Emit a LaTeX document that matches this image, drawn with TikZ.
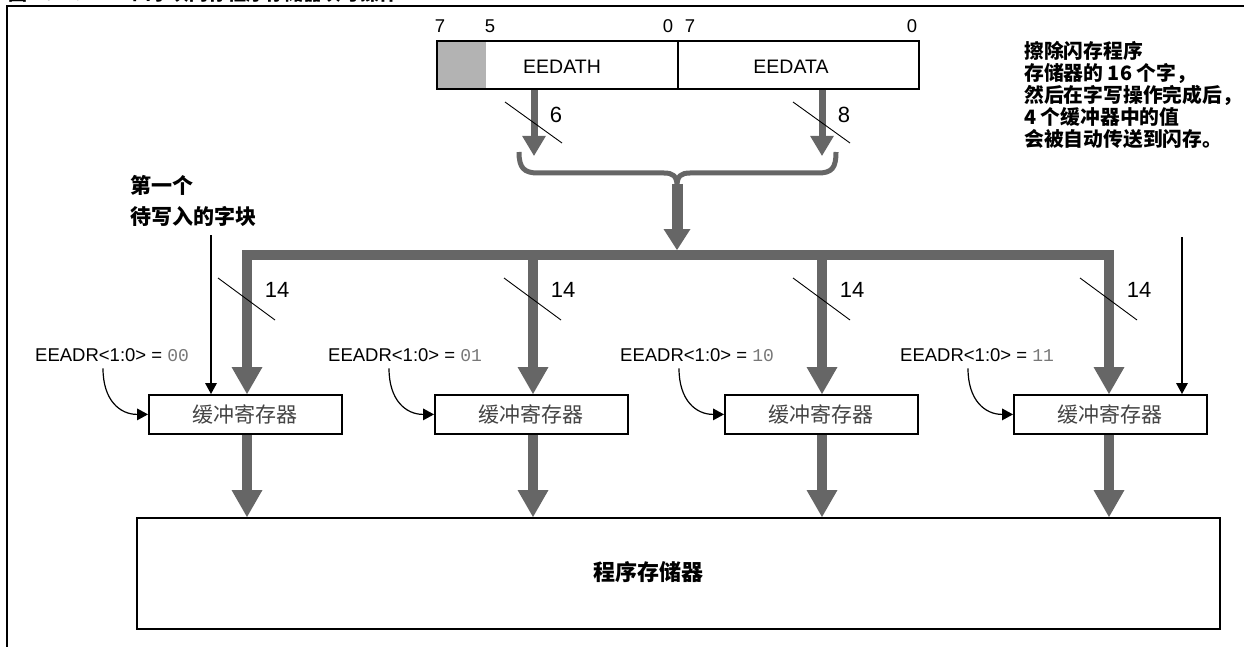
\documentclass[tikz,border=0pt]{standalone}
\usepackage{fontspec}
\setmainfont{Liberation Sans}
\newfontfamily\monof{Liberation Mono}
\newfontfamily\cjk{Noto Sans CJK SC}
\usetikzlibrary{arrows.meta,calc}
\definecolor{arrowgray}{HTML}{666666}
\definecolor{fillgray}{HTML}{B3B3B3}
\definecolor{txtgray}{HTML}{444444}
\definecolor{numgray}{HTML}{777777}
\tikzset{
  regbox/.style={draw, line width=1.8pt, inner sep=0, minimum height=48pt, minimum width=241pt},
  bufbox/.style={draw, line width=1.8pt, inner sep=0, minimum height=39pt, minimum width=193pt, text=txtgray, font=\cjk\fontsize{21}{21}\selectfont},
  membox/.style={draw, line width=1.8pt, inner sep=0, minimum height=111pt, minimum width=1083pt},
  fatarrow/.style={draw=arrowgray, line width=10.5pt, -{Triangle[width=31pt,length=27pt,line width=0pt]}},
  midarrow/.style={draw=arrowgray, line width=7pt, -{Triangle[width=24pt,length=20pt,line width=0pt]}},
  stemarrow/.style={draw=arrowgray, line width=11pt, -{Triangle[width=27pt,length=21pt,line width=0pt]}},
  thinarrow/.style={draw, line width=1.2pt, -{Triangle[width=12pt,length=11pt,line width=0pt]}},
  slashline/.style={draw, line width=0.9pt},
  bitnum/.style={inner sep=0, font=\fontsize{18.5}{18.5}\selectfont},
  widthnum/.style={inner sep=0, font=\fontsize{22}{22}\selectfont},
  reglabel/.style={inner sep=0, font=\fontsize{19.5}{19.5}\selectfont},
  eelabel/.style={inner sep=0, anchor=west, font=\fontsize{18.5}{18.5}\selectfont},
  note/.style={inner sep=0, align=left, anchor=north west},
}
\newcommand{\eenum}[1]{{\monof\color{numgray}\fontsize{18}{18}\selectfont #1}}
\begin{document}
\begin{tikzpicture}[x=1pt,y=-1pt]
\useasboundingbox (0,0) rectangle (1244,647);
% outer frame and clipped title
\draw[line width=2pt] (7,650) -- (7,6) -- (1246,6);
\node[anchor=base west, inner sep=0, font=\cjk\bfseries\fontsize{19}{19}\selectfont] (title) at (8,1) {图 10-2：\hspace{40pt}四字块闪存程序存储器块写操作};
% register
\fill[fillgray] (436,40) rectangle (486,88);
\node[regbox, anchor=north west] (regH) at (436,40) {};
\node[regbox, anchor=north west] (regL) at (677,40) {};
\node[reglabel] (lblH) at (562,67) {EEDATH};
\node[reglabel] (lblL) at (791,67) {EEDATA};
\node[bitnum] (n7a) at (440,26) {7};
\node[bitnum] (n5) at (490,26) {5};
\node[bitnum] (n0a) at (668,26) {0};
\node[bitnum] (n7b) at (690,26) {7};
\node[bitnum] (n0b) at (912,26) {0};
% arrows from register
\draw[midarrow] ([xshift=98pt]regH.south west) -- ++(0,66);
\draw[midarrow] ([xshift=145pt]regL.south west) -- ++(0,66);
\draw[slashline] (505,102) -- (562,143);
\draw[slashline] (793,102) -- (850,143);
\node[widthnum] (w6) at (556,115) {6};
\node[widthnum] (w8) at (844,115) {8};
% brace
\draw[arrowgray, line width=5pt] (519,152) .. controls (519,168) and (524,173) .. (538,173) -- (664,173) .. controls (673,173) and (677,176) .. (677,186) .. controls (677,176) and (681,173) .. (690,173) -- (818,173) .. controls (832,173) and (836,168) .. (836,152);
\coordinate (braceC) at (677,184);
% bus
\coordinate (busL) at (242,255);
\coordinate (busR) at (1114,255);
\draw[arrowgray, line width=10pt] (busL) -- (busR);
\draw[stemarrow] (braceC) -- (677,250);
% buffers
\node[bufbox, anchor=north west] (b1) at (148,394) {缓冲寄存器};
\node[bufbox, anchor=north west] (b2) at (434,394) {缓冲寄存器};
\node[bufbox, anchor=north west] (b3) at (724,394) {缓冲寄存器};
\node[bufbox, anchor=north west] (b4) at (1013,394) {缓冲寄存器};
\node[membox, anchor=north west] (mem) at (136,517) {};
\node[inner sep=0, font=\cjk\bfseries\fontsize{22}{22}\selectfont] (memlbl) at (648,572) {程序存储器};
\foreach \b/\x in {b1/247,b2/533,b3/822,b4/1109}{
  \coordinate (d\b) at (\x,255);
  \draw[fatarrow] (d\b) -- (d\b |- \b.north);
  \draw[fatarrow] (d\b |- \b.south) -- (d\b |- mem.north);
  \draw[slashline] ($(d\b)+(-29,23)$) -- ($(d\b)+(28,65)$);
  \node[widthnum] at ($(d\b)+(30,35)$) {14};
  \draw[thinarrow] ($(\b.west)+(-45,-46)$) .. controls +(0,32) and +(-28,0) .. (\b.west);
}
% EEADR labels
\node[eelabel] (ea1) at (35,355) {EEADR<1:0> = \eenum{00}};
\node[eelabel] (ea2) at (328,355) {EEADR<1:0> = \eenum{01}};
\node[eelabel] (ea3) at (620,355) {EEADR<1:0> = \eenum{10}};
\node[eelabel] (ea4) at (900,355) {EEADR<1:0> = \eenum{11}};
% first block pointer arrows
\coordinate (t1) at (211,235);
\coordinate (t2) at (1182,237);
\draw[thinarrow] (t1) -- (t1 |- b1.north);
\draw[thinarrow] (t2) -- (t2 |- b4.north);
\node[note, font=\cjk\bfseries\fontsize{21}{31}\selectfont] (first) at (130,175) {第一个\\待写入的字块};
\node[note, font=\cjk\bfseries\fontsize{19.8}{22}\selectfont] (erase) at (1024,41) {擦除闪存程序\\存储器的 16 个字，\\然后在字写操作完成后，\\4 个缓冲器中的值\\会被自动传送到闪存。};
\end{tikzpicture}
\end{document}
